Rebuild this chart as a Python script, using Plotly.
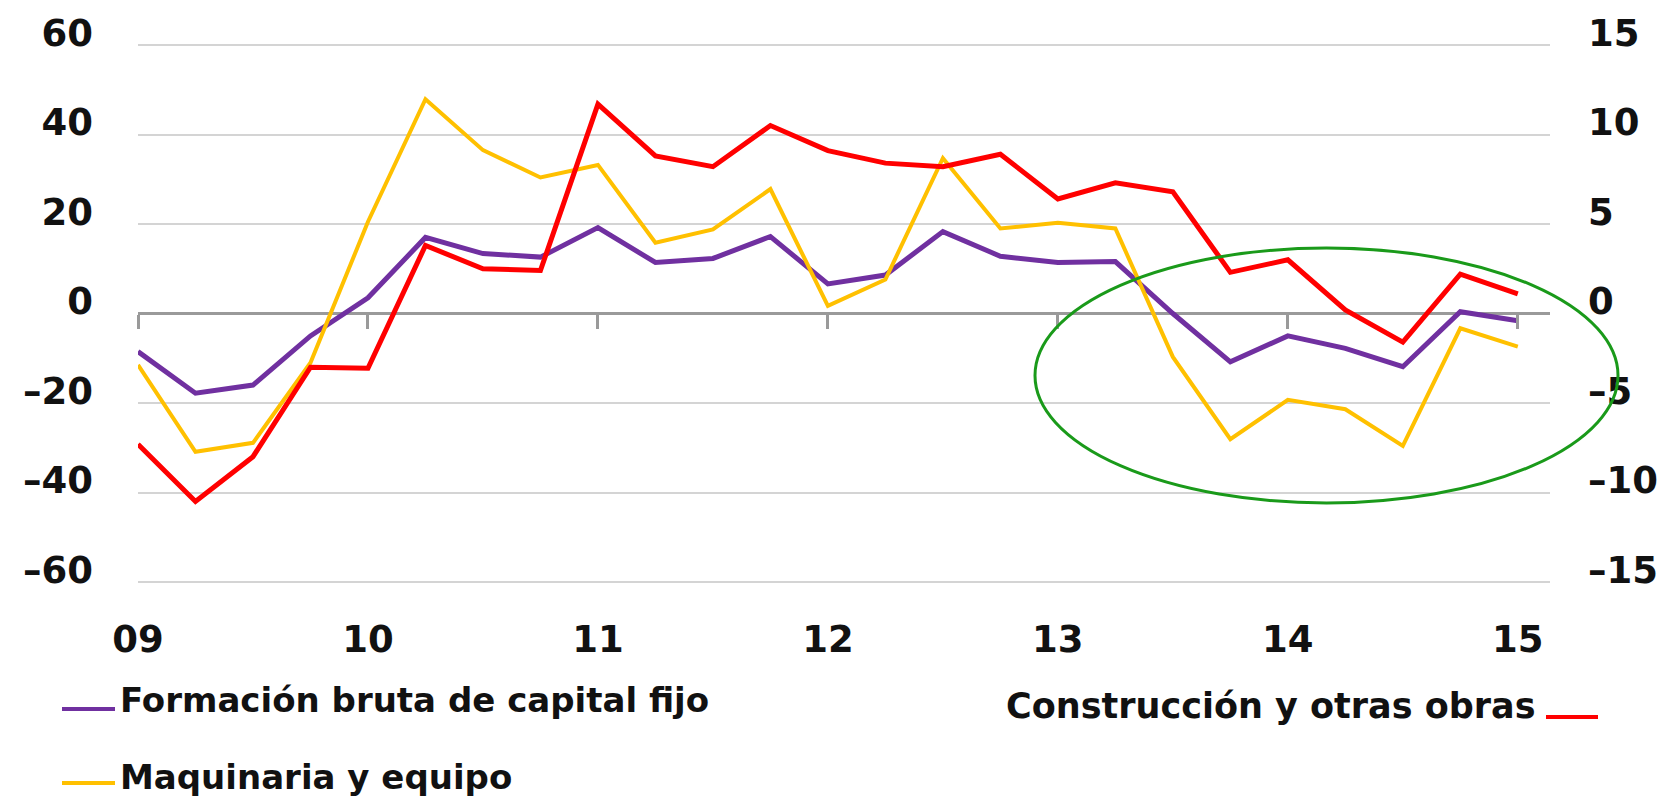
import plotly.graph_objects as go

# quarterly data, 2009 Q1 .. 2015 Q1
quarters = [f"{y:02d}T{q}" for y in range(9, 16) for q in range(1, 5)][:25]
year_labels = ["09", "10", "11", "12", "13", "14", "15"]

# left axis (%)
fbcf = [-8.5, -17.8, -16.0, -5.0, 3.5, 17.0, 13.4, 12.6, 19.2, 11.4, 12.3, 17.2,
        6.6, 8.6, 18.3, 12.8, 11.4, 11.6, 0.0, -10.8, -5.0, -7.8, -11.9, 0.4, -1.6]
maquinaria = [-11.5, -30.9, -28.9, -11.0, 20.5, 47.9, 36.5, 30.4, 33.2, 15.8, 18.8, 27.8,
              1.7, 7.6, 34.7, 19.0, 20.3, 19.0, -9.7, -28.1, -19.3, -21.4, -29.6, -3.3, -7.4]
# right axis (%)
construccion = [-7.3, -10.5, -8.0, -3.0, -3.06, 3.8, 2.5, 2.4, 11.7, 8.8, 8.2, 10.5,
                9.1, 8.4, 8.2, 8.9, 6.4, 7.3, 6.8, 2.3, 3.0, 0.2, -1.6, 2.2, 1.1]

left_ticks = [-60, -40, -20, 0, 20, 40, 60]
right_ticks = [-15, -10, -5, 0, 5, 10, 15]

PURPLE = "#7030A0"
YELLOW = "#FFC000"
RED = "#FF0000"
GREEN = "#1A9A1A"
FONT = "DejaVu Sans"

W, H = 1676, 802
OFF = 8  # page body margin shifts the figure by this much
L, R, T, B = 130, 134, 34, 225
YPAD = 3 / 4.475  # a little room so the 60 / -60 grid lines are drawn

x = list(range(len(quarters)))


def px_x(p):
    # screen pixel -> paper x
    return (p - OFF - L) / (W - L - R)


def px_y(p):
    # screen pixel -> paper y
    return (H - B - (p - OFF)) / (H - T - B)


def lab(v):
    return str(v).replace("-", "\u2013")


fig = go.Figure()
fig.add_trace(go.Scatter(x=x, y=fbcf, mode="lines", name="Formación bruta de capital fijo",
                         line=dict(color=PURPLE, width=5)))
fig.add_trace(go.Scatter(x=x, y=maquinaria, mode="lines", name="Maquinaria y equipo",
                         line=dict(color=YELLOW, width=4)))
# red series on the second pair of axes (x2 carries the tick marks on the zero line)
fig.add_trace(go.Scatter(x=x, y=construccion, mode="lines", name="Construcción y otras obras",
                         line=dict(color=RED, width=5), xaxis="x2", yaxis="y2"))

tickfont = dict(family=FONT, size=37, color="#111111", weight="bold")
xrange = [0, 24.56]

fig.update_layout(
    width=W, height=H,
    margin=dict(l=L, r=R, t=T, b=B, pad=0),
    paper_bgcolor="white", plot_bgcolor="white",
    showlegend=False,
    xaxis=dict(range=xrange, tickvals=x[::4], ticktext=year_labels,
               showgrid=False, zeroline=False, showline=False, ticks="",
               tickfont=tickfont, ticklabelstandoff=29, automargin=False),
    xaxis2=dict(range=xrange, overlaying="x", anchor="free", position=0.5,
                tickvals=x[::4], ticks="outside", ticklen=14, tickwidth=3,
                tickcolor="#9a9a9a", showticklabels=False, showgrid=False,
                zeroline=False, showline=False, automargin=False),
    yaxis=dict(range=[-60 - YPAD, 60 + YPAD], tickvals=left_ticks,
               ticktext=[lab(v) for v in left_ticks],
               showgrid=True, gridcolor="#d4d4d4", gridwidth=2,
               zeroline=True, zerolinecolor="#9a9a9a", zerolinewidth=3,
               showline=False, ticks="", tickfont=tickfont,
               ticklabelstandoff=44, ticklabelshift=-12, automargin=False),
    yaxis2=dict(range=[-15 - YPAD / 4, 15 + YPAD / 4], tickvals=right_ticks,
                ticktext=[lab(v) for v in right_ticks],
                overlaying="y", side="right", anchor="x", showgrid=False, zeroline=False,
                showline=False, ticks="", tickfont=tickfont,
                ticklabelstandoff=37, ticklabelshift=-12, automargin=False),
)

# highlight ellipse
fig.add_shape(type="circle", xref="paper", yref="paper",
              x0=px_x(1035), x1=px_x(1618), y0=px_y(503), y1=px_y(248),
              line=dict(color=GREEN, width=3), layer="above")

# custom legend
legfont = dict(family=FONT, size=34, color="#111111", weight="bold")
for color, y_line, label, y_text in [(PURPLE, 709, "Formación bruta de capital fijo", 700),
                                     (YELLOW, 783, "Maquinaria y equipo", 777)]:
    fig.add_shape(type="line", xref="paper", yref="paper",
                  x0=px_x(62), x1=px_x(115), y0=px_y(y_line), y1=px_y(y_line),
                  line=dict(color=color, width=4))
    fig.add_annotation(xref="paper", yref="paper", x=px_x(118), y=px_y(y_text),
                       text=label, showarrow=False, xanchor="left", yanchor="middle",
                       font=legfont)

fig.add_shape(type="line", xref="paper", yref="paper",
              x0=px_x(1546), x1=px_x(1598), y0=px_y(717), y1=px_y(717),
              line=dict(color=RED, width=4))
fig.add_annotation(xref="paper", yref="paper", x=px_x(1538), y=px_y(706),
                   text="Construcción y otras obras", showarrow=False,
                   xanchor="right", yanchor="middle",
                   font=dict(legfont, size=35))

fig.write_html("out.html")
